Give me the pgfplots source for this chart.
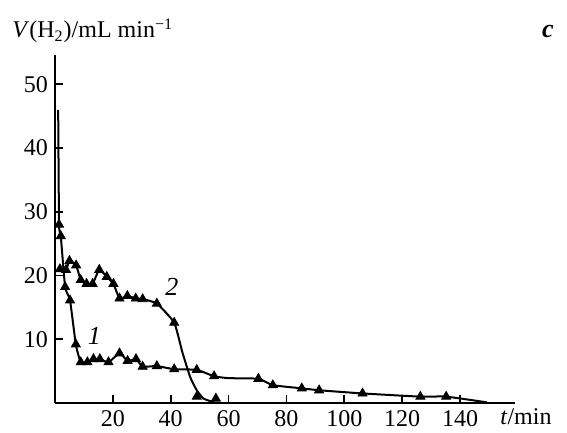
\documentclass[border=0pt]{standalone}
\usepackage{fontspec}
\setmainfont{Liberation Serif}
\usepackage{pgfplots}
\pgfplotsset{compat=1.18}

\begin{document}
\begin{tikzpicture}
\begin{axis}[
  scale only axis, width=230pt, height=174pt,
  xmin=0, xmax=159, ymin=0, ymax=54.6,
  axis lines=left, axis line style={-, line width=1pt},
  xtick={20,40,...,140}, ytick={10,20,...,50},
  tick align=inside, major tick length=4pt,
  tick style={line width=0.9pt, black},
  ticklabel style={font=\fontsize{12}{14}\selectfont},
  /pgf/number format/assume math mode=true,
  clip=false,
]
% curve 1: line
\addplot[black, line width=1pt, smooth, tension=0.3] coordinates {
(1.1,46) (1.4,28) (2,26.2) (3.5,18.2) (5.2,16.1) (7.2,9.2) (8.9,6.4)
(11.2,6.4) (13.3,6.9) (15.5,6.9) (18.5,6.4) (22.3,7.8) (25.1,6.6) (28,6.9)
(30.3,5.7) (35.2,5.8) (41.2,5.3) (49,5.2) (55,4.2) (60,3.9) (70.3,3.8)
(75.3,2.8) (85.3,2.3) (91.3,2.0) (106.3,1.5) (126.3,1.0) (135.2,1.0) (149.3,0.1)};
% curve 1: marks
\addplot[only marks, mark=triangle*, mark size=2.6pt, black] coordinates {
(1.4,28) (2,26.2) (3.5,18.2) (5.2,16.1) (7.2,9.2) (8.9,6.4)
(11.2,6.4) (13.3,6.9) (15.5,6.9) (18.5,6.4) (22.3,7.8) (25.1,6.6) (28,6.9)
(30.3,5.7) (35.2,5.8) (41.2,5.3) (49,5.2) (55,4.2) (70.3,3.8)
(75.3,2.8) (85.3,2.3) (91.3,2.0) (106.3,1.5) (126.3,1.0) (135.2,1.0)};
% curve 2: line
\addplot[black, line width=1pt, smooth, tension=0.3] coordinates {
(1.0,21.0) (1.7,21.0) (3.8,20.9) (5,22.3) (7.3,21.6) (8.9,19.3) (10.9,18.7)
(13,18.7) (15.3,20.9) (17.9,19.8) (20.2,18.7) (22.3,16.4) (25,16.8)
(27.9,16.4) (30.3,16.3) (35.2,15.6) (41.2,12.6) (44,8) (46.7,4.1)
(49,2) (51.3,0.7) (55,0.1)};
% curve 2: marks
\addplot[only marks, mark=triangle*, mark size=2.6pt, black] coordinates {
(1.7,21.0) (3.8,20.9) (5,22.3) (7.3,21.6) (8.9,19.3) (10.9,18.7)
(13,18.7) (15.3,20.9) (17.9,19.8) (20.2,18.7) (22.3,16.4) (25,16.8)
(27.9,16.4) (30.3,16.3) (35.2,15.6) (41.2,12.6) (49,1.0) (55.6,0.7)};
\node[font=\fontsize{13}{15}\selectfont\itshape] at (axis cs:13.6,10.5) {1};
\node[font=\fontsize{13}{15}\selectfont\itshape] at (axis cs:40.4,18.2) {2};
\end{axis}
\node[anchor=base west, inner sep=0pt, font=\fontsize{12}{14}\selectfont] at (-21.5pt,182.5pt)
  {\textit{V}(H\textsubscript{2})/mL min\textsuperscript{−1}};
\node[anchor=base, inner sep=0pt, font=\fontsize{13}{15}\selectfont\bfseries\itshape] at (246.5pt,182.5pt) {c};
\node[anchor=base west, inner sep=0pt, font=\fontsize{12}{14}\selectfont] at (222.5pt,-11pt)
  {\textit{t}/min};
\path[use as bounding box] (-27.5pt,-15pt) rectangle (256pt,201.5pt);
\end{tikzpicture}
\end{document}
